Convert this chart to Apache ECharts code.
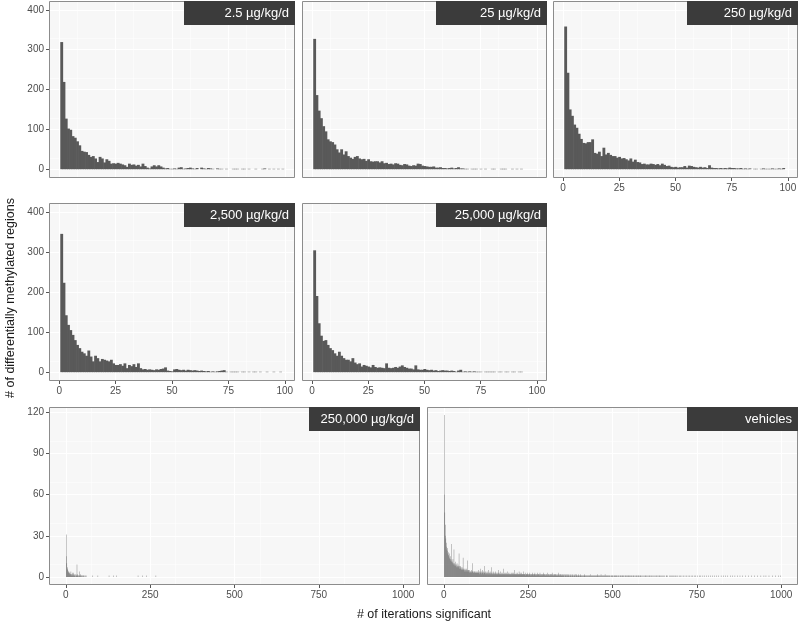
<!DOCTYPE html>
<html>
<head>
<meta charset="utf-8">
<script src="https://cdn.jsdelivr.net/npm/echarts@6.0.0/dist/echarts.min.js"></script>
<style>
  html, body { margin: 0; padding: 0; background: #fff; }
  #chart { width: 800px; height: 623px; }
</style>
</head>
<body>
<div id="chart"></div>
<script>
// panel titles
var panelNames = ['2.5 µg/kg/d', '25 µg/kg/d', '250 µg/kg/d', '2,500 µg/kg/d', '25,000 µg/kg/d', '250,000 µg/kg/d', 'vehicles'];

// tick labels
var xTicksNarrow = [0, 25, 50, 75, 100];
var xTicksWide = [0, 250, 500, 750, 1000];
var yTicksUpper = [0, 100, 200, 300, 400];
var yTicksLower = [0, 30, 60, 90, 120];

// counts per iteration bin (bin 1, 2, 3, ...)
var dose2_5 = [319, 219, 127, 102, 99, 83, 79, 70, 60, 46,
  44, 43, 36, 31, 33, 27, 18, 31, 27, 17,
  25, 21, 14, 15, 14, 16, 14, 12, 10, 6,
  14, 11, 12, 9, 11, 7, 14, 8, 4, 2,
  7, 10, 7, 10, 7, 4, 2, 3, 1, 1,
  2, 1, 4, 5, 1, 2, 3, 4, 2, 1,
  3, 0, 4, 2, 1, 3, 2, 1, 0, 2,
  1, 1, 0, 1, 0, 0, 1, 1, 1, 0,
  1, 1, 0, 1, 0, 0, 1, 0, 0, 1,
  2, 0, 1, 0, 1, 0, 1, 0, 1];

var dose25 = [327, 186, 147, 128, 108, 95, 75, 70, 68, 62,
  50, 42, 50, 37, 45, 33, 29, 26, 31, 33,
  27, 25, 26, 21, 25, 20, 19, 20, 20, 17,
  20, 15, 16, 13, 14, 12, 15, 14, 11, 10,
  13, 12, 9, 8, 10, 9, 14, 13, 9, 8,
  7, 6, 6, 7, 4, 4, 5, 3, 3, 2,
  3, 4, 2, 3, 5, 2, 2, 1, 1, 0,
  1, 1, 1, 0, 1, 0, 1, 0, 0, 1,
  1, 0, 0, 1, 1, 1, 0, 0, 1, 0,
  1, 0, 1];

var dose250 = [358, 242, 150, 134, 112, 104, 89, 76, 66, 65,
  68, 68, 75, 41, 39, 44, 33, 54, 37, 41,
  36, 33, 33, 29, 31, 27, 28, 25, 22, 27,
  19, 24, 18, 17, 13, 14, 12, 12, 14, 13,
  11, 13, 10, 14, 11, 8, 9, 6, 5, 6,
  4, 5, 5, 8, 4, 9, 8, 6, 5, 4,
  6, 4, 5, 3, 10, 4, 3, 3, 2, 3,
  2, 3, 2, 4, 3, 3, 2, 2, 3, 1,
  2, 1, 2, 0, 1, 1, 0, 1, 2, 1,
  1, 1, 2, 1, 1, 2, 1, 3];

var dose2500 = [345, 223, 142, 118, 105, 93, 80, 68, 60, 51,
  47, 41, 54, 39, 27, 41, 35, 27, 33, 31,
  29, 27, 31, 22, 18, 18, 20, 16, 22, 10,
  18, 15, 20, 13, 22, 10, 7, 8, 6, 7,
  6, 5, 7, 6, 8, 9, 12, 4, 3, 2,
  7, 8, 6, 5, 6, 4, 6, 5, 4, 5,
  4, 3, 4, 3, 2, 3, 1, 2, 1, 2,
  3, 4, 5, 1, 0, 1, 1, 1, 1, 0,
  1, 1, 0, 1, 0, 1, 1, 0, 1, 0,
  0, 1, 0, 0, 1, 0, 0, 1];

var dose25000 = [304, 190, 122, 91, 78, 80, 68, 60, 55, 47,
  41, 51, 41, 35, 31, 31, 27, 35, 24, 20,
  22, 14, 18, 16, 14, 12, 18, 13, 11, 12,
  11, 10, 22, 11, 10, 11, 13, 11, 14, 17,
  13, 11, 9, 9, 7, 17, 7, 6, 6, 8,
  6, 5, 6, 4, 5, 3, 4, 5, 4, 4,
  3, 4, 3, 1, 4, 6, 1, 2, 1, 2,
  1, 2, 1, 1, 1, 0, 1, 1, 1, 1,
  1, 0, 1, 1, 0, 1, 1, 0, 1, 1,
  0, 1, 1];

var dose250000 = [31, 15, 10, 7, 6, 5, 4, 3, 4, 3,
  2, 3, 2, 2, 4, 2, 1, 2, 3, 1,
  2, 3, 1, 2, 1, 1, 2, 1, 0, 2,
  1, 1, 9, 1, 2, 1, 0, 1, 1, 4,
  1, 0, 1, 2, 1, 0, 1, 1, 0, 1,
  0, 1, 1, 0, 1, 0, 0, 1, 0, 1];
// isolated bins further out: [bin, count]
var dose250000Sparse = [[80, 1], [95, 1], [128, 1], [142, 1], [151, 1], [214, 1], [228, 1], [240, 1], [267, 1]];

var vehiclesHead = [118, 60, 47, 38, 30, 28, 25, 22, 20, 19,
  21, 17, 18, 16, 15, 17, 14, 13, 15, 12,
  13, 11, 24, 12, 10, 11, 13, 9, 10, 20,
  9, 10, 8, 11, 9, 8, 9, 7, 10, 8,
  7, 9, 8, 7, 17, 8, 6, 7, 8, 6,
  7, 6, 5, 7, 6, 5, 14, 6, 5, 6,
  5, 4, 6, 5, 4, 5, 6, 4, 5, 12,
  4, 5, 4, 5, 4, 3, 5, 4, 4, 3,
  4, 5, 3, 4, 10, 4, 3, 4, 3, 4,
  3, 4, 3, 3, 4, 3, 3, 4, 3, 3];
// bins 101 .. 1000
var vehiclesTail = [4, 3, 5, 3, 4, 2, 3, 6, 3, 4, 3, 2, 4, 3, 5, 3, 2, 4, 3, 3, 8, 3, 2, 4, 3, 2, 3, 4, 2, 3, 3, 2, 5, 3, 2, 3, 4, 2, 3, 2, 7, 3, 2, 3, 2, 4, 2, 3, 2, 3,
  2, 3, 2, 4, 2, 3, 2, 2, 3, 2, 5, 2, 3, 2, 2, 3, 2, 4, 2, 2, 3, 2, 2, 3, 2, 6, 2, 2, 3, 2, 2, 3, 2, 2, 2, 3, 2, 2, 4, 2, 2, 3, 2, 2, 2, 3, 2, 2, 2, 3,
  2, 2, 3, 2, 2, 2, 3, 2, 2, 5, 2, 2, 2, 3, 2, 2, 2, 2, 3, 2, 2, 2, 4, 2, 2, 3, 2, 2, 2, 2, 3, 2, 2, 2, 2, 4, 2, 2, 2, 2, 3, 2, 1, 2, 2, 2, 3, 2, 2, 2,
  2, 1, 2, 2, 3, 2, 1, 2, 2, 2, 1, 2, 3, 2, 2, 1, 2, 2, 2, 3, 1, 2, 2, 1, 2, 2, 3, 2, 1, 2, 2, 2, 1, 2, 3, 1, 2, 2, 1, 2, 2, 2, 1, 2, 2, 3, 1, 2, 2, 1,
  2, 1, 2, 2, 1, 2, 1, 3, 1, 2, 2, 1, 2, 1, 2, 2, 1, 2, 1, 2, 3, 1, 2, 1, 2, 1, 2, 1, 2, 1, 2, 2, 1, 2, 1, 1, 2, 1, 2, 3, 1, 2, 1, 1, 2, 1, 2, 1, 1, 2,
  1, 2, 1, 1, 2, 1, 0, 2, 1, 1, 2, 1, 1, 2, 0, 1, 2, 1, 1, 2, 1, 0, 1, 2, 1, 1, 2, 1, 0, 1, 1, 2, 1, 1, 0, 2, 1, 1, 1, 2, 0, 1, 1, 2, 1, 0, 1, 1, 2, 1,
  1, 0, 1, 1, 2, 1, 0, 1, 1, 1, 1, 0, 1, 1, 0, 1, 2, 1, 0, 1, 1, 0, 1, 1, 1, 0, 1, 1, 0, 1, 1, 1, 0, 2, 1, 0, 1, 1, 0, 1, 1, 0, 1, 1, 0, 1, 1, 0, 1, 1,
  0, 1, 1, 0, 1, 2, 1, 0, 1, 1, 0, 1, 1, 0, 1, 2, 1, 0, 1, 1, 0, 1, 1, 0, 1, 0, 1, 2, 1, 0, 1, 1, 0, 1, 0, 1, 1, 0, 1, 0, 1, 1, 0, 0, 1, 1, 0, 1, 0, 1,
  1, 0, 1, 0, 1, 1, 0, 1, 0, 1, 0, 1, 1, 0, 1, 0, 0, 1, 1, 0, 0, 1, 1, 0, 1, 0, 1, 0, 1, 1, 0, 1, 0, 1, 0, 0, 1, 1, 0, 1, 0, 1, 0, 1, 0, 1, 0, 1, 1, 0,
  1, 0, 0, 1, 1, 0, 1, 0, 0, 1, 0, 1, 1, 0, 0, 1, 0, 1, 0, 1, 1, 0, 0, 1, 0, 1, 0, 1, 0, 0, 1, 0, 1, 1, 0, 0, 1, 0, 1, 0, 0, 1, 0, 1, 0, 0, 1, 0, 1, 0,
  1, 0, 0, 1, 0, 1, 0, 0, 1, 0, 1, 0, 0, 1, 0, 1, 0, 0, 1, 0, 0, 1, 0, 1, 0, 0, 1, 0, 0, 1, 0, 1, 0, 0, 1, 0, 0, 1, 0, 1, 0, 0, 1, 0, 0, 1, 0, 0, 1, 0,
  0, 1, 0, 0, 1, 0, 0, 0, 1, 0, 1, 0, 0, 1, 0, 0, 0, 1, 0, 0, 1, 0, 0, 1, 0, 0, 0, 1, 0, 0, 1, 0, 0, 0, 1, 0, 1, 0, 0, 0, 1, 0, 0, 1, 0, 0, 0, 1, 0, 0,
  1, 0, 0, 0, 0, 1, 0, 0, 0, 1, 0, 0, 0, 0, 1, 0, 0, 0, 1, 0, 0, 0, 0, 1, 0, 0, 0, 1, 0, 0, 0, 0, 1, 0, 0, 0, 0, 1, 0, 0, 0, 1, 0, 0, 0, 0, 1, 0, 0, 0,
  1, 0, 0, 0, 0, 0, 1, 0, 0, 0, 0, 1, 0, 0, 0, 0, 0, 1, 0, 0, 0, 0, 1, 0, 0, 0, 0, 0, 1, 0, 0, 0, 0, 0, 1, 0, 0, 0, 0, 1, 0, 0, 0, 0, 0, 1, 0, 0, 0, 0,
  0, 1, 0, 0, 0, 0, 0, 0, 1, 0, 0, 0, 0, 0, 1, 0, 0, 0, 0, 0, 0, 1, 0, 0, 0, 0, 0, 0, 1, 0, 0, 0, 0, 0, 1, 0, 0, 0, 0, 0, 0, 1, 0, 0, 0, 0, 0, 0, 1, 0,
  0, 0, 0, 0, 0, 1, 0, 0, 0, 0, 0, 0, 1, 0, 0, 0, 0, 0, 0, 0, 1, 0, 0, 0, 0, 0, 0, 1, 0, 0, 0, 0, 0, 0, 0, 1, 0, 0, 0, 0, 0, 0, 0, 1, 0, 0, 0, 0, 0, 0,
  0, 0, 1, 0, 0, 0, 0, 0, 0, 0, 0, 1, 0, 0, 0, 0, 0, 0, 0, 0, 1, 0, 0, 0, 0, 0, 0, 0, 0, 1, 0, 0, 0, 0, 0, 0, 0, 0, 0, 1, 0, 0, 0, 0, 0, 0, 0, 0, 1, 0,
  0, 0, 0, 0, 1, 0, 0, 0, 0, 0, 0, 0, 0, 1, 0, 0, 0, 0, 0, 0, 0, 0, 0, 1, 0, 0, 0, 0, 0, 0, 0, 0, 1, 0, 0, 0, 0, 0, 0, 0, 0, 0, 1, 0, 0, 0, 0, 0, 1, 0];

function bins(arr, first) {
  var out = [];
  for (var i = 0; i < arr.length; i++) {
    if (arr[i] > 0) out.push([first + i, arr[i]]);
  }
  return out;
}

var panelData = [
  bins(dose2_5, 1),
  bins(dose25, 1),
  bins(dose250, 1),
  bins(dose2500, 1),
  bins(dose25000, 1),
  bins(dose250000, 1).concat(dose250000Sparse),
  bins(vehiclesHead, 1).concat(bins(vehiclesTail, 101))
];

// panel frames (px) and which axes carry labels
var layout = [
  { left: 49, top: 1, width: 246, height: 177, wide: false, xLab: false, yLab: true },
  { left: 302, top: 1, width: 245, height: 177, wide: false, xLab: false, yLab: false },
  { left: 553, top: 1, width: 245, height: 177, wide: false, xLab: true, yLab: false },
  { left: 49, top: 203, width: 246, height: 178, wide: false, xLab: true, yLab: true },
  { left: 302, top: 203, width: 245, height: 178, wide: false, xLab: true, yLab: false },
  { left: 49, top: 407, width: 371, height: 178, wide: true, xLab: true, yLab: true },
  { left: 427, top: 407, width: 371, height: 178, wide: true, xLab: true, yLab: false }
];

var FONT = '"Liberation Sans", Arial, Helvetica, sans-serif';
var labelColor = '#4d4d4d';

// one histogram bar per bin, spanning [bin - 0.5, bin + 0.5]
function renderBin(params, api) {
  var x = api.value(0), y = api.value(1);
  var a = api.coord([x - 0.5, y]);
  var b = api.coord([x + 0.5, 0]);
  var w = b[0] - a[0];
  // slight overlap so neighbouring bars merge into one block
  if (w > 1.5) w += 0.6;
  return {
    type: 'rect',
    shape: { x: a[0], y: a[1], width: w, height: b[1] - a[1] },
    style: { fill: '#595959' }
  };
}

var grids = [], xAxes = [], yAxes = [], series = [], graphics = [];

layout.forEach(function (p, i) {
  grids.push({
    left: p.left, top: p.top, width: p.width, height: p.height,
    show: true, backgroundColor: '#f7f7f7', borderWidth: 0,
    containLabel: false, outerBoundsMode: 'none'
  });

  var xt = p.wide ? xTicksWide : xTicksNarrow;
  var yt = p.wide ? yTicksLower : yTicksUpper;

  xAxes.push({
    type: 'value', gridIndex: i,
    min: p.wide ? -50 : -4.5,
    max: p.wide ? 1050 : 104.5,
    interval: p.wide ? 250 : 25,
    axisLine: { show: false, onZero: false },
    axisTick: { show: p.xLab, length: 3, customValues: xt, lineStyle: { color: '#555', width: 1 } },
    axisLabel: {
      show: p.xLab, customValues: xt, margin: 5,
      color: labelColor, fontSize: 10, fontFamily: FONT,
      formatter: function (v) { return String(v); }
    },
    splitLine: { show: true, lineStyle: { color: '#ffffff', width: 1 } },
    minorTick: { show: false, splitNumber: 2 },
    minorSplitLine: { show: true, lineStyle: { color: '#ffffff', width: 0.5 } }
  });

  yAxes.push({
    type: 'value', gridIndex: i,
    min: p.wide ? -5.9 : -22,
    max: p.wide ? 123.9 : 422,
    interval: p.wide ? 30 : 100,
    axisLine: { show: false, onZero: false },
    axisTick: { show: p.yLab, length: 3, customValues: yt, lineStyle: { color: '#555', width: 1 } },
    axisLabel: {
      show: p.yLab, customValues: yt, margin: 5,
      color: labelColor, fontSize: 10, fontFamily: FONT,
      formatter: function (v) { return String(v); }
    },
    splitLine: { show: true, lineStyle: { color: '#ffffff', width: 1 } },
    minorTick: { show: false, splitNumber: 2 },
    minorSplitLine: { show: true, lineStyle: { color: '#ffffff', width: 0.5 } }
  });

  series.push({
    type: 'custom', xAxisIndex: i, yAxisIndex: i,
    data: panelData[i],
    encode: { x: 0, y: 1 },
    renderItem: renderBin,
    clip: true,
    silent: true
  });

  // frame
  graphics.push({
    type: 'rect', z: 100, silent: true,
    shape: { x: p.left + 0.5, y: p.top + 0.5, width: p.width - 1, height: p.height - 1 },
    style: { fill: 'none', stroke: '#8c8c8c', lineWidth: 1 }
  });
  // strip label
  graphics.push({
    type: 'rect', z: 101, silent: true,
    shape: { x: p.left + p.width - 111, y: p.top, width: 111, height: 24 },
    style: { fill: '#3b3b3b' }
  });
  graphics.push({
    type: 'text', z: 102, silent: true,
    x: p.left + p.width - 6, y: p.top + 12.5,
    style: {
      text: panelNames[i], fill: '#ffffff', font: '13px ' + FONT,
      align: 'right', verticalAlign: 'middle', textAlign: 'right', textVerticalAlign: 'middle'
    }
  });
});

graphics.push({
  type: 'text', silent: true,
  x: 11, y: 298, rotation: Math.PI / 2,
  style: {
    text: '# of differentially methylated regions', fill: '#1a1a1a', font: '12.5px ' + FONT,
    align: 'center', verticalAlign: 'middle', textAlign: 'center', textVerticalAlign: 'middle'
  }
});
graphics.push({
  type: 'text', silent: true,
  x: 424, y: 615,
  style: {
    text: '# of iterations significant', fill: '#1a1a1a', font: '12.5px ' + FONT,
    align: 'center', verticalAlign: 'middle', textAlign: 'center', textVerticalAlign: 'middle'
  }
});

var chart = echarts.init(document.getElementById('chart'), null, { renderer: 'canvas' });
chart.setOption({
  animation: false,
  backgroundColor: '#ffffff',
  grid: grids,
  xAxis: xAxes,
  yAxis: yAxes,
  series: series,
  graphic: graphics
});
</script>
</body>
</html>
